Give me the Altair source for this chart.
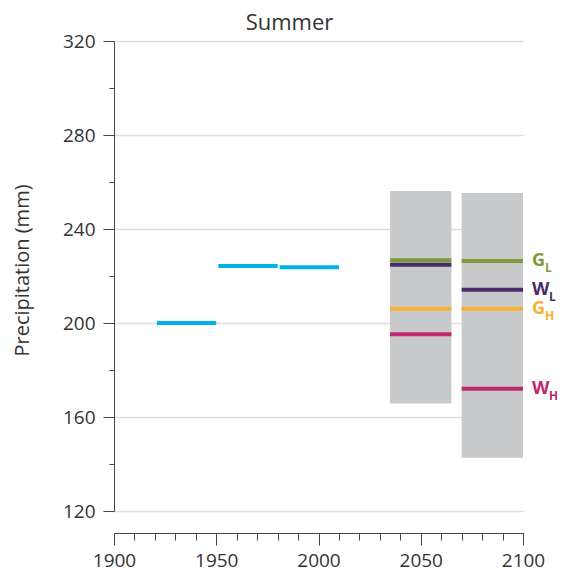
import altair as alt
import pandas as pd

# Observed 30-year means
obs_start = [1921, 1951, 1981]
obs_end = [1950, 1980, 2010]
obs_value = [200.0, 224.3, 223.7]

# Projection periods (grey ranges)
proj_start = [2035, 2070]
proj_end = [2065, 2100]
range_low = [165.7, 142.7]
range_high = [256.2, 255.3]

# Scenario values per projection period
scenario_main = ["G", "W", "G", "W"]
scenario_sub = ["L", "L", "H", "H"]
scenario_color = ["#7f9a3a", "#4a2c6a", "#f8b133", "#c1266f"]
value_2050 = [226.7, 224.8, 206.1, 195.2]
value_2085 = [226.4, 214.2, 206.1, 172.0]

FONT = "Open Sans"
TXT = "#333333"

obs = pd.DataFrame({"start": obs_start, "end": obs_end, "value": obs_value})
proj = pd.DataFrame({"start": proj_start, "end": proj_end, "low": range_low, "high": range_high})

rows = []
for i, name in enumerate(scenario_main):
    key = name + scenario_sub[i]
    for p, vals in enumerate([value_2050, value_2085]):
        rows.append({"key": key, "main": name, "sub": scenario_sub[i],
                     "start": proj_start[p], "end": proj_end[p],
                     "value": vals[i], "period": p})
scen = pd.DataFrame(rows)
labels = scen[scen["period"] == 1].copy()

xs = alt.Scale(domain=[1900, 2100], nice=False)
ys = alt.Scale(domain=[120, 320], nice=False, zero=False)
cscale = alt.Scale(domain=[m + s for m, s in zip(scenario_main, scenario_sub)], range=scenario_color)

x_major = alt.Axis(orient="bottom", values=[1900, 1950, 2000, 2050, 2100], format="d", tickSize=12,
                   offset=22, grid=False, labelFontSize=19, labelFont=FONT, labelColor=TXT,
                   labelPadding=6, labelFlush=False, domainColor="#444444", tickColor="#444444",
                   title=None)
x_minor = alt.Axis(orient="bottom", values=list(range(1900, 2101, 10)), tickSize=7, offset=22,
                   labels=False, grid=False, domain=False, tickColor="#444444", title=None)
y_major = alt.Axis(orient="left", values=[120, 160, 200, 240, 280, 320], tickSize=11, grid=True,
                   gridColor="#dddddd", gridWidth=1.5, labelFontSize=19, labelFont=FONT,
                   labelColor=TXT, labelPadding=8, labelFlush=False, domainColor="#444444",
                   tickColor="#444444",
                   title="Precipitation (mm)", titleFont=FONT, titleFontSize=20,
                   titleFontWeight="normal", titleColor=TXT, titleX=-92, titleY=229,
                   titleAngle=-90, titleBaseline="middle", titleAlign="center")
y_minor = alt.Axis(orient="left", values=[140, 180, 220, 260, 300], tickSize=5, labels=False,
                   grid=False, domain=False, tickColor="#444444", title=None)

base_axes_major = alt.Chart(obs).mark_rule(opacity=0).encode(
    x=alt.X("start:Q", scale=xs, axis=x_major),
    y=alt.Y("value:Q", scale=ys, axis=y_major),
)
base_axes_minor = alt.Chart(obs).mark_rule(opacity=0).encode(
    x=alt.X("start:Q", scale=xs, axis=x_minor),
    y=alt.Y("value:Q", scale=ys, axis=y_minor),
)

ranges = alt.Chart(proj).mark_rect(color="#c8c9cb").encode(
    x=alt.X("start:Q", scale=xs, axis=None),
    x2="end:Q",
    y=alt.Y("low:Q", scale=ys, axis=None),
    y2="high:Q",
)

obs_lines = alt.Chart(obs).mark_rule(color="#00b2ec", strokeWidth=4).encode(
    x=alt.X("start:Q", scale=xs, axis=None),
    x2="end:Q",
    y=alt.Y("value:Q", scale=ys, axis=None),
)

scen_lines = alt.Chart(scen).mark_rule(strokeWidth=4).encode(
    x=alt.X("start:Q", scale=xs, axis=None),
    x2="end:Q",
    y=alt.Y("value:Q", scale=ys, axis=None),
    color=alt.Color("key:N", scale=cscale, legend=None),
)

main_txt = alt.Chart(labels).mark_text(align="left", baseline="middle", dx=9, fontSize=18,
                                       fontWeight="bold", font=FONT).encode(
    x=alt.X("end:Q", scale=xs, axis=None),
    y=alt.Y("value:Q", scale=ys, axis=None),
    text="main:N",
    color=alt.Color("key:N", scale=cscale, legend=None),
)
sub_g = alt.Chart(labels).transform_filter(alt.datum.main == "G").mark_text(
    align="left", baseline="middle", dx=22, dy=7, fontSize=12, fontWeight="bold", font=FONT).encode(
    x=alt.X("end:Q", scale=xs, axis=None),
    y=alt.Y("value:Q", scale=ys, axis=None),
    text="sub:N",
    color=alt.Color("key:N", scale=cscale, legend=None),
)
sub_w = alt.Chart(labels).transform_filter(alt.datum.main == "W").mark_text(
    align="left", baseline="middle", dx=26, dy=7, fontSize=12, fontWeight="bold", font=FONT).encode(
    x=alt.X("end:Q", scale=xs, axis=None),
    y=alt.Y("value:Q", scale=ys, axis=None),
    text="sub:N",
    color=alt.Color("key:N", scale=cscale, legend=None),
)

chart = alt.layer(
    base_axes_major, base_axes_minor, ranges, obs_lines, scen_lines, main_txt, sub_g, sub_w
).resolve_axis(x="independent", y="independent").properties(
    width=409, height=470,
    title=alt.TitleParams("Summer", fontSize=22, font=FONT, fontWeight="normal", color=TXT,
                          anchor="middle", dx=-29, offset=-3),
    autosize=alt.AutoSizeParams(type="none"),
    padding={"left": 106, "top": 33, "right": 34, "bottom": 60},
).configure_view(stroke=None)

chart.save("out.html", embed_options={"renderer": "svg", "actions": False})
